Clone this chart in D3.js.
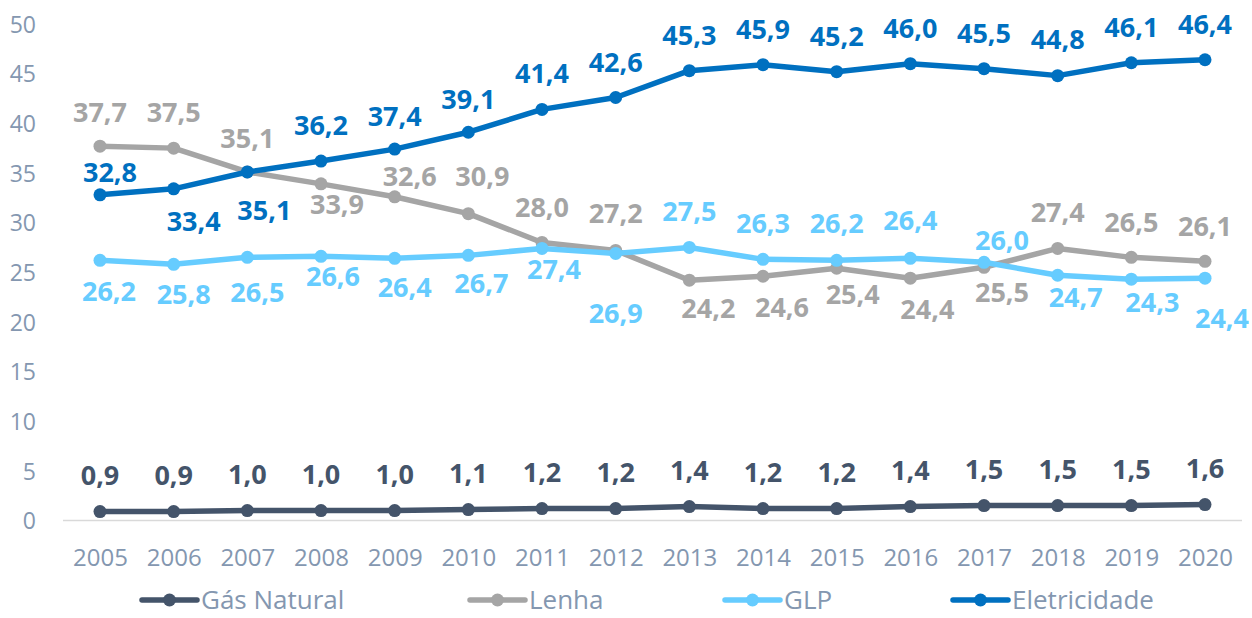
<!DOCTYPE html>
<html>
<head>
<meta charset="utf-8">
<script src="https://cdn.jsdelivr.net/npm/d3@7"></script>
<style>
  html, body { margin: 0; padding: 0; background: #fff; }
  svg { display: block; font-family: "Open Sans", "Noto Sans", sans-serif; }
</style>
</head>
<body>
<div id="chart"></div>
<script>
// dados
const anos = ["2005","2006","2007","2008","2009","2010","2011","2012","2013","2014","2015","2016","2017","2018","2019","2020"];
const gasNatural = [0.9, 0.9, 1.0, 1.0, 1.0, 1.1, 1.2, 1.2, 1.4, 1.2, 1.2, 1.4, 1.5, 1.5, 1.5, 1.6];
const lenha = [37.7, 37.5, 35.1, 33.9, 32.6, 30.9, 28.0, 27.2, 24.2, 24.6, 25.4, 24.4, 25.5, 27.4, 26.5, 26.1];
const glp = [26.2, 25.8, 26.5, 26.6, 26.4, 26.7, 27.4, 26.9, 27.5, 26.3, 26.2, 26.4, 26.0, 24.7, 24.3, 24.4];
const eletricidade = [32.8, 33.4, 35.1, 36.2, 37.4, 39.1, 41.4, 42.6, 45.3, 45.9, 45.2, 46.0, 45.5, 44.8, 46.1, 46.4];
const yTicks = [0, 5, 10, 15, 20, 25, 30, 35, 40, 45, 50];

const series = [
  { nome: "Gás Natural", valores: gasNatural, cor: "#44546A" },
  { nome: "Lenha", valores: lenha, cor: "#A5A5A5" },
  { nome: "GLP", valores: glp, cor: "#66CCFF" },
  { nome: "Eletricidade", valores: eletricidade, cor: "#0070C0" }
];

// deslocamento dos rótulos (px, centro do texto relativo ao ponto)
const rotuloDy = {
  "Gás Natural": anos.map(() => -36),
  "Lenha": [-34, -36, -34, 20, -21, -37, -35, -37, 28, 31, 26, 31, 25, -36, -35, -35],
  "GLP": [31, 30, 35, 20, 29, 28, 21, 60, -36, -36, -37, -38, -22, 22, 23, 40],
  "Eletricidade": [-23, 32, 38, -36, -33, -33, -36, -35, -35, -35, -35, -35, -35, -36, -35, -35]
};
const rotuloDx = {
  "Gás Natural": anos.map(() => 0),
  "Lenha": [0, 0, 0, 16, 15, 14, 0, 0, 19, 19, 16, 17, 18, 0, 0, 0],
  "GLP": [9, 10, 10, 12, 10, 13, 12, 0, 0, 0, 0, 0, 18, 18, 21, 17],
  "Eletricidade": [10, 20, 17, 0, 0, 0, 0, 0, 0, 0, 0, 0, 0, 0, 0, 0]
};
// início de cada item da legenda
const legendaX = [142, 470, 725, 953];

const width = 1252, height = 618;
const corTexto = "#8497B0";

const svg = d3.select("#chart").append("svg")
  .attr("width", width)
  .attr("height", height);

const x = d3.scalePoint().domain(anos).range([100, 1205]);
const y = d3.scaleLinear().domain([0, 50]).range([520.5, 24]);

// linha do eixo x
svg.append("line")
  .attr("x1", 63).attr("x2", 1242)
  .attr("y1", y(0)).attr("y2", y(0))
  .attr("stroke", "#D9D9D9")
  .attr("stroke-width", 1.5);

// eixo y (só rótulos)
const eixoY = svg.append("g")
  .attr("transform", "translate(36,0)")
  .call(d3.axisLeft(y).tickValues(yTicks).tickSize(0).tickPadding(0));
eixoY.select(".domain").remove();
eixoY.selectAll("text")
  .attr("fill", corTexto)
  .style("font-size", "23px")
  .style("font-family", "'Open Sans', sans-serif")
  .attr("dy", "0.36em");

// eixo x (só rótulos)
const eixoX = svg.append("g")
  .attr("transform", `translate(0,${y(0)})`)
  .call(d3.axisBottom(x).tickSize(0).tickPadding(0));
eixoX.select(".domain").remove();
eixoX.selectAll("text")
  .attr("fill", corTexto)
  .attr("y", 37)
  .attr("dy", "0.36em")
  .style("font-size", "24px")
  .style("font-family", "'Open Sans', sans-serif");

const linha = d3.line()
  .x((d, i) => x(anos[i]))
  .y(d => y(d));

// linhas e marcadores
series.forEach(s => {
  const g = svg.append("g");
  g.append("path")
    .datum(s.valores)
    .attr("d", linha)
    .attr("fill", "none")
    .attr("stroke", s.cor)
    .attr("stroke-width", 5.5)
    .attr("stroke-linejoin", "round");
  g.selectAll("circle")
    .data(s.valores)
    .enter()
    .append("circle")
    .attr("cx", (d, i) => x(anos[i]))
    .attr("cy", d => y(d))
    .attr("r", 6.5)
    .attr("fill", s.cor);
});

// rótulos de dados
const fmt = v => d3.format(".1f")(v).replace(".", ",");
series.forEach(s => {
  svg.append("g").selectAll("text")
    .data(s.valores)
    .enter()
    .append("text")
    .attr("x", (d, i) => x(anos[i]) + rotuloDx[s.nome][i])
    .attr("y", (d, i) => y(d) + rotuloDy[s.nome][i])
    .attr("dy", "0.36em")
    .attr("text-anchor", "middle")
    .attr("fill", s.cor)
    .style("font-size", "27px")
    .style("font-weight", "bold")
    .text(d => fmt(d));
});

// legenda
const legenda = svg.append("g").attr("transform", "translate(0,600)");
series.forEach((s, i) => {
  const item = legenda.append("g").attr("transform", `translate(${legendaX[i]},0)`);
  item.append("line")
    .attr("x1", 0).attr("x2", 55)
    .attr("stroke", s.cor)
    .attr("stroke-width", 5.5)
    .attr("stroke-linecap", "round");
  item.append("circle")
    .attr("cx", 27.5)
    .attr("r", 6.5)
    .attr("fill", s.cor);
  item.append("text")
    .attr("x", 59)
    .attr("dy", "0.36em")
    .attr("fill", corTexto)
    .style("font-size", "26px")
    .text(s.nome);
});
</script>
</body>
</html>
